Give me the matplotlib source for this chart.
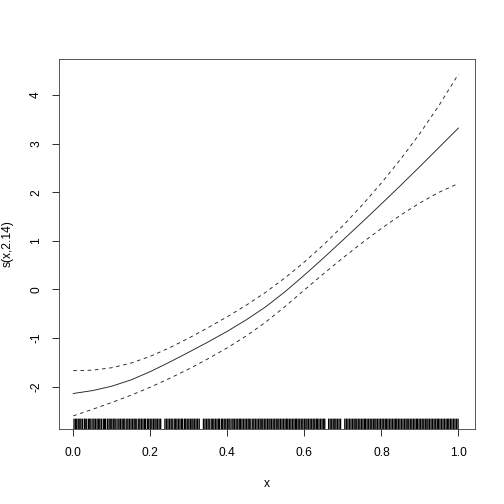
import matplotlib
matplotlib.use("Agg")
import matplotlib.pyplot as plt

plt.rcParams['font.family'] = ['Liberation Sans', 'DejaVu Sans']

x_grid = [0.00, 0.05, 0.10, 0.15, 0.20, 0.25, 0.30, 0.35, 0.40, 0.45, 0.50,
          0.55, 0.60, 0.65, 0.70, 0.75, 0.80, 0.85, 0.90, 0.95, 1.00]
fit = [-2.14, -2.08, -1.99, -1.86, -1.69, -1.495, -1.29, -1.08, -0.86, -0.62, -0.355,
       -0.045, 0.295, 0.65, 1.015, 1.385, 1.76, 2.14, 2.53, 2.925, 3.32]
upper = [-1.67, -1.66, -1.61, -1.515, -1.375, -1.20, -1.00, -0.785, -0.56, -0.32, -0.055,
         0.24, 0.565, 0.92, 1.31, 1.735, 2.19, 2.68, 3.21, 3.79, 4.43]
lower = [-2.60, -2.465, -2.325, -2.175, -2.01, -1.83, -1.635, -1.425, -1.20, -0.95, -0.67,
         -0.35, -0.01, 0.325, 0.65, 0.96, 1.255, 1.53, 1.78, 2.00, 2.18]

rug_x = [0.002, 0.006, 0.009, 0.013, 0.017, 0.020, 0.024, 0.029, 0.031, 0.035, 0.040, 0.043,
         0.046, 0.051, 0.054, 0.058, 0.062, 0.066, 0.069, 0.073, 0.078, 0.081, 0.084, 0.089,
         0.093, 0.096, 0.100, 0.104, 0.108, 0.111, 0.116, 0.119, 0.123, 0.127, 0.131, 0.134,
         0.139, 0.142, 0.146, 0.150, 0.154, 0.158, 0.161, 0.165, 0.170, 0.173, 0.177, 0.181,
         0.185, 0.188, 0.193, 0.196, 0.200, 0.204, 0.208, 0.212, 0.215, 0.219, 0.223, 0.227,
         0.238, 0.242, 0.246, 0.250, 0.254, 0.257, 0.262, 0.265, 0.269, 0.273, 0.277, 0.281,
         0.284, 0.289, 0.292, 0.296, 0.300, 0.304, 0.308, 0.311, 0.315, 0.319, 0.323, 0.327,
         0.338, 0.342, 0.346, 0.350, 0.353, 0.358, 0.361, 0.365, 0.369, 0.373, 0.377, 0.380,
         0.385, 0.388, 0.392, 0.396, 0.400, 0.404, 0.407, 0.412, 0.415, 0.419, 0.423, 0.427,
         0.431, 0.434, 0.438, 0.442, 0.446, 0.450, 0.454, 0.457, 0.461, 0.466, 0.469, 0.473,
         0.477, 0.481, 0.485, 0.488, 0.492, 0.496, 0.500, 0.504, 0.508, 0.511, 0.515, 0.519,
         0.523, 0.527, 0.531, 0.534, 0.538, 0.542, 0.546, 0.550, 0.554, 0.557, 0.561, 0.565,
         0.569, 0.573, 0.577, 0.580, 0.584, 0.588, 0.592, 0.596, 0.600, 0.604, 0.607, 0.611,
         0.615, 0.619, 0.623, 0.627, 0.631, 0.634, 0.638, 0.642, 0.646, 0.650, 0.653, 0.663,
         0.667, 0.671, 0.675, 0.679, 0.682, 0.686, 0.690, 0.694, 0.705, 0.709, 0.713, 0.717,
         0.721, 0.725, 0.729, 0.732, 0.736, 0.740, 0.744, 0.748, 0.752, 0.756, 0.759, 0.763,
         0.767, 0.771, 0.775, 0.779, 0.783, 0.786, 0.790, 0.794, 0.798, 0.802, 0.806, 0.810,
         0.813, 0.817, 0.821, 0.825, 0.829, 0.833, 0.837, 0.840, 0.844, 0.848, 0.852, 0.856,
         0.860, 0.864, 0.867, 0.871, 0.875, 0.879, 0.883, 0.887, 0.891, 0.894, 0.898, 0.902,
         0.906, 0.910, 0.914, 0.918, 0.921, 0.925, 0.929, 0.933, 0.937, 0.941, 0.945, 0.948,
         0.952, 0.956, 0.960, 0.964, 0.968, 0.972, 0.975, 0.979, 0.983, 0.987, 0.991, 0.995,
         0.999]

x_ticks = [0.0, 0.2, 0.4, 0.6, 0.8, 1.0]
x_tick_labels = ["0.0", "0.2", "0.4", "0.6", "0.8", "1.0"]
y_ticks = [-2, -1, 0, 1, 2, 3, 4]
y_tick_labels = ["-2", "-1", "0", "1", "2", "3", "4"]

fig = plt.figure(figsize=(7, 7), dpi=72)
ax = fig.add_axes([59/504, 75/504, 416/504, 370/504])

ax.plot(x_grid, fit, color='#222222', lw=0.9)
ax.plot(x_grid, upper, color='#222222', lw=0.9, linestyle=(0, (4, 4)))
ax.plot(x_grid, lower, color='#222222', lw=0.9, linestyle=(0, (4, 4)))

ax.set_xlim(-0.037, 1.043)
ax.set_ylim(-2.87, 4.74)

rug = ax.vlines(rug_x, 0, 0.028, transform=ax.get_xaxis_transform(), color='#000000', lw=1.3)
rug.set_snap(False)

ax.set_xticks(x_ticks)
ax.set_xticklabels(x_tick_labels)
ax.set_yticks(y_ticks)
ax.set_yticklabels(y_tick_labels, rotation=90, va='center')
ax.tick_params(direction='out', length=7, width=0.8, labelsize=12, pad=10)
ax.tick_params(axis='x', pad=11)

for s in ax.spines.values():
    s.set_linewidth(0.8)
    s.set_color('#333333')

ax.set_xlabel('x', fontsize=12, labelpad=19)
ax.set_ylabel('s(x,2.14)', fontsize=12, labelpad=16)

fig.savefig('out.png', dpi=72)
